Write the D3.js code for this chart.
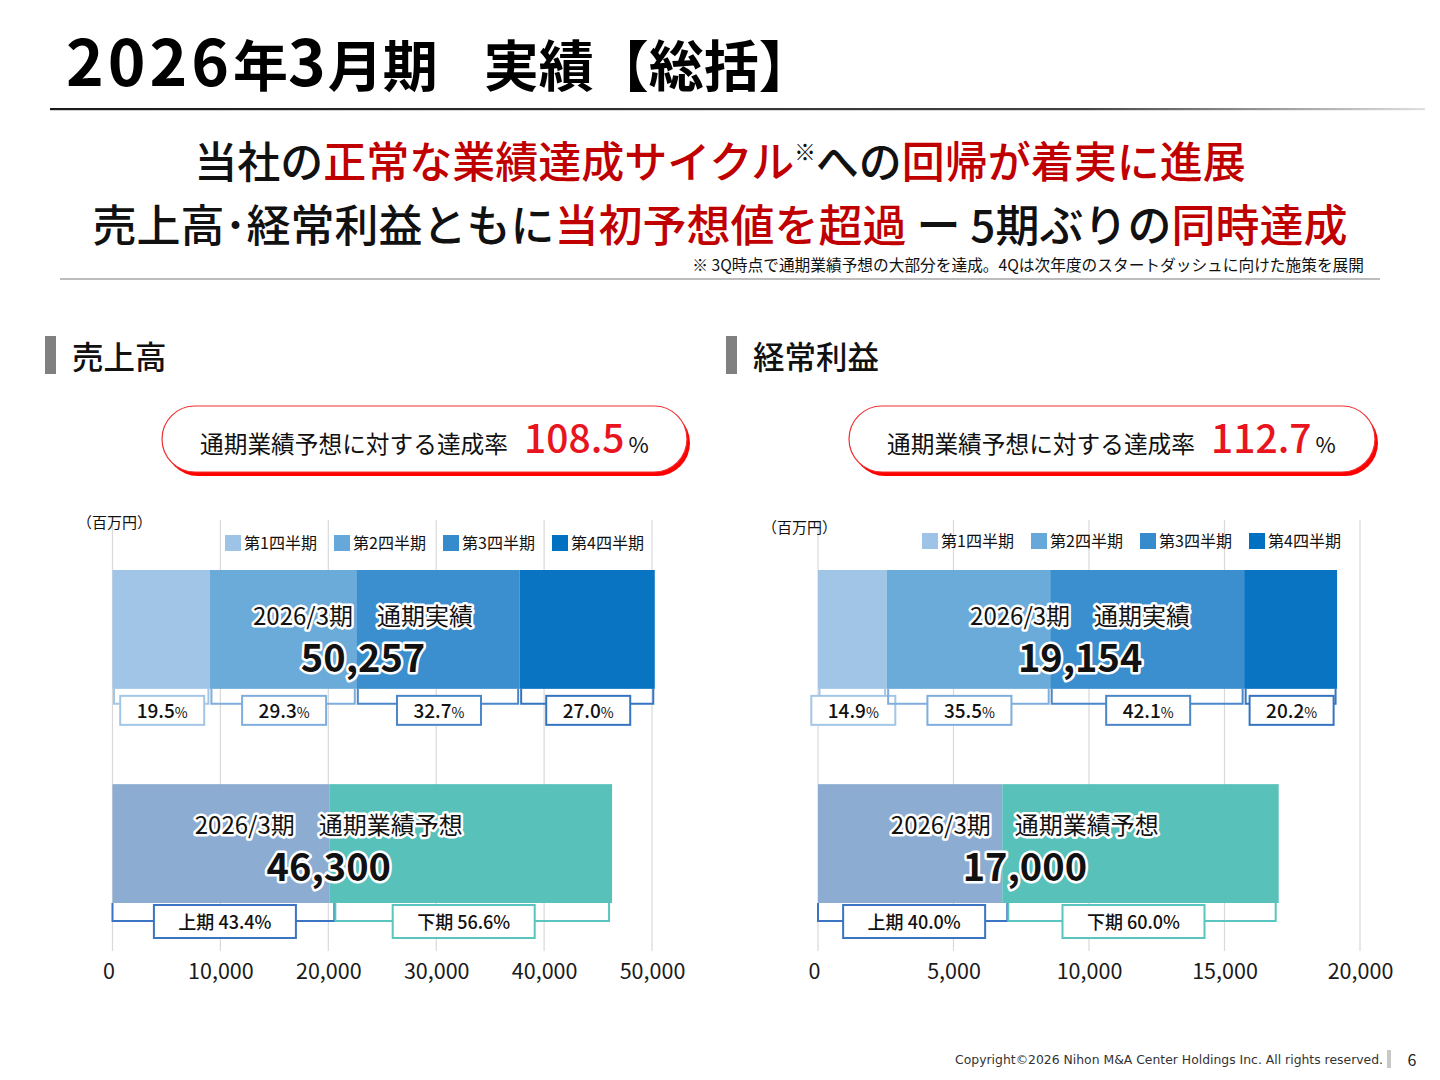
<!DOCTYPE html>
<html lang="ja">
<head>
<meta charset="utf-8">
<script src="https://cdn.jsdelivr.net/npm/d3@7"></script>
<style>
  html, body { margin: 0; padding: 0; background: #fff; }
  svg { display: block; font-family: "Noto Sans CJK JP", "Noto Sans", sans-serif; }
</style>
</head>
<body>
<svg id="chart" width="1440" height="1080"></svg>
<script>
// ---------------- data ----------------
const quarterNames = ["第1四半期", "第2四半期", "第3四半期", "第4四半期"];
const halfNames = ["上期", "下期"];
const rowKeys = ["actual", "forecast"];

// 売上高 (百万円)
const salesQuarterValues = [9029, 13566, 15140, 12522];
const salesQuarterPct = ["19.5", "29.3", "32.7", "27.0"];
const salesForecastHalves = [20094, 26206];
const salesForecastPct = ["43.4%", "56.6%"];
const salesActualTotal = "50,257";
const salesForecastTotal = "46,300";
const salesAchievement = "108.5";
const salesTicks = [0, 10000, 20000, 30000, 40000, 50000];

// 経常利益 (百万円)
const profitQuarterValues = [2533, 6035, 7157, 3429];
const profitQuarterPct = ["14.9", "35.5", "42.1", "20.2"];
const profitForecastHalves = [6800, 10200];
const profitForecastPct = ["40.0%", "60.0%"];
const profitActualTotal = "19,154";
const profitForecastTotal = "17,000";
const profitAchievement = "112.7";
const profitTicks = [0, 5000, 10000, 15000, 20000];

// ---------------- styles ----------------
const quarterColors = ["#9DC3E6", "#66A8D9", "#368BCD", "#0070C0"];
const quarterLineColors = ["#A3C6E6", "#7FAEDD", "#4A86C8", "#3574C0"];
const halfColors = ["#88AACF", "#52BFB8"];
const halfLineColors = ["#3A74C2", "#58C6BE"];
const RED_DARK = "#C00000";
const RED = "#E8141E";

const svg = d3.select("#chart");
const defs = svg.append("defs");

// ---------------- header ----------------
const title = svg.append("text")
  .attr("x", 66).attr("y", 86)
  .attr("font-size", 55).attr("font-weight", 700).attr("fill", "#000");
title.append("tspan").attr("font-size", 64).attr("letter-spacing", 4).text("2026");
title.append("tspan").text("年");
title.append("tspan").attr("font-size", 64).attr("letter-spacing", 2).text("3");
title.append("tspan").text("月期");
title.append("tspan").attr("dx", 46).text("実績【総括】");

const grad = defs.append("linearGradient").attr("id", "ruleGrad");
grad.append("stop").attr("offset", "0%").attr("stop-color", "#1a1a1a");
grad.append("stop").attr("offset", "75%").attr("stop-color", "#444");
grad.append("stop").attr("offset", "100%").attr("stop-color", "#e0e0e0");
svg.append("rect").attr("x", 50).attr("y", 108).attr("width", 1375).attr("height", 2.2)
  .attr("fill", "url(#ruleGrad)");

function richLine(y, parts, size) {
  const t = svg.append("text").attr("x", 720).attr("y", y)
    .attr("text-anchor", "middle").attr("font-size", size).attr("font-weight", 500);
  parts.forEach(p => {
    const s = t.append("tspan").text(p[0]).attr("fill", p[1] ? RED_DARK : "#111");
    if (p[2]) s.attr("font-size", size * 0.5).attr("dy", -size * 0.42);
    if (p[3]) s.attr("dy", size * 0.42);
  });
}
richLine(178, [["当社の", 0], ["正常な業績達成サイクル", 1], ["※", 0, 1], ["への", 0, 0, 1], ["回帰が着実に進展", 1]], 43);
richLine(242, [["売上高･経常利益ともに", 0], ["当初予想値を超過", 1], [" ー 5期ぶりの", 0], ["同時達成", 1]], 44);

svg.append("text").attr("x", 1364).attr("y", 271).attr("text-anchor", "end")
  .attr("font-size", 15.7).attr("fill", "#111")
  .text("※ 3Q時点で通期業績予想の大部分を達成。4Qは次年度のスタートダッシュに向けた施策を展開");
svg.append("line").attr("x1", 60).attr("x2", 1380).attr("y1", 279).attr("y2", 279)
  .attr("stroke", "#a6a6a6").attr("stroke-width", 1.6);

// ---------------- panels ----------------
const panels = [
  {
    title: "売上高", headX: 45, pill: [162, 690], unitX: 85, unitY: 528, legendX: 225, legendY: 543,
    range: [112.5, 652], domain: [0, 50000], ticks: salesTicks,
    q: salesQuarterValues, qPct: salesQuarterPct, h: salesForecastHalves, hPct: salesForecastPct,
    actual: salesActualTotal, forecast: salesForecastTotal, ach: salesAchievement,
    actLabelFrac: 0.462, fcLabelFrac: 0.433
  },
  {
    title: "経常利益", headX: 726, pill: [849, 1378], unitX: 770, unitY: 533, legendX: 922, legendY: 541,
    range: [818, 1360], domain: [0, 20000], ticks: profitTicks,
    q: profitQuarterValues, qPct: profitQuarterPct, h: profitForecastHalves, hPct: profitForecastPct,
    actual: profitActualTotal, forecast: profitForecastTotal, ach: profitAchievement,
    actLabelFrac: 0.505, fcLabelFrac: 0.449
  }
];

const y = d3.scaleBand().domain(rowKeys).range([570, 903]).paddingInner(0.445).paddingOuter(0);
const bw = y.bandwidth();

panels.forEach((p, pi) => {
  const g = svg.append("g");
  // section header
  g.append("rect").attr("x", p.headX).attr("y", 336).attr("width", 11).attr("height", 38).attr("fill", "#808080");
  g.append("text").attr("x", p.headX + 27).attr("y", 369).attr("font-size", 31.5).attr("font-weight", 500)
    .attr("fill", "#111").text(p.title);

  // pill
  const [px0, px1] = p.pill;
  const ph = 66;
  g.append("rect").attr("x", px0 + 3).attr("y", 410).attr("width", px1 - px0 - 3).attr("height", ph)
    .attr("rx", ph / 2).attr("fill", "#FF0000");
  g.append("rect").attr("x", px0).attr("y", 406).attr("width", px1 - px0 - 3).attr("height", ph)
    .attr("rx", ph / 2).attr("fill", "#fff").attr("stroke", "#F03030").attr("stroke-width", 1.2);
  const pt = g.append("text").attr("x", px0 + 38).attr("y", 453).attr("fill", "#111");
  pt.append("tspan").attr("font-size", 23.7).text("通期業績予想に対する達成率");
  pt.append("tspan").attr("dx", 16).attr("font-size", 39).attr("font-weight", 500).attr("fill", RED).text(p.ach);
  pt.append("tspan").attr("dx", 4).attr("font-size", 22).text("%");

  const x = d3.scaleLinear().domain(p.domain).range(p.range);

  // grid + axis
  const grid = g.append("g");
  grid.selectAll("line").data(p.ticks).join("line")
    .attr("x1", d => x(d)).attr("x2", d => x(d)).attr("y1", 520).attr("y2", 951)
    .attr("stroke", "#d9d9d9").attr("stroke-width", 1.2);
  const axis = g.append("g").attr("transform", "translate(0,956)")
    .call(d3.axisBottom(x).tickValues(p.ticks).tickSize(0).tickPadding(8).tickFormat(d3.format(",")));
  axis.select(".domain").remove();
  axis.selectAll("text").attr("font-size", 21.5).attr("fill", "#1a1a1a")
    .attr("font-family", "\"Noto Sans CJK JP\", sans-serif").attr("dx", (d, i) => i === 0 ? -4 : 0);

  // unit + legend
  g.append("text").attr("x", p.unitX).attr("y", p.unitY).attr("font-size", 15).attr("fill", "#111").text("（百万円）")
    .attr("dx", -8);
  const lg = g.append("g").attr("transform", `translate(${p.legendX},${p.legendY})`);
  quarterNames.forEach((n, i) => {
    lg.append("rect").attr("x", i * 109).attr("y", -8).attr("width", 16).attr("height", 16).attr("fill", quarterColors[i]);
    lg.append("text").attr("x", i * 109 + 19).attr("y", 6).attr("font-size", 16).attr("fill", "#111").text(n);
  });

  // actual stacked bar
  const qStack = [];
  let acc = 0;
  p.q.forEach((v, i) => { qStack.push({ i, x0: acc, x1: acc + v }); acc += v; });
  const yA = y("actual");
  g.append("g").selectAll("rect").data(qStack).join("rect")
    .attr("x", d => x(d.x0)).attr("width", d => x(d.x1) - x(d.x0))
    .attr("y", yA).attr("height", bw).attr("fill", d => quarterColors[d.i]).attr("fill-opacity", 0.97);

  // forecast stacked bar
  const hStack = [];
  acc = 0;
  p.h.forEach((v, i) => { hStack.push({ i, x0: acc, x1: acc + v }); acc += v; });
  const yF = y("forecast");
  g.append("g").selectAll("rect").data(hStack).join("rect")
    .attr("x", d => x(d.x0)).attr("width", d => x(d.x1) - x(d.x0))
    .attr("y", yF).attr("height", bw).attr("fill", d => halfColors[d.i]).attr("fill-opacity", 0.97);

  // brackets + boxes (actual)
  const bA = yA + bw;
  qStack.forEach(d => {
    const c = quarterLineColors[d.i];
    const xa = x(d.x0) + 1.5, xb = x(d.x1) - 1.5;
    g.append("path").attr("d", `M${xa},${bA}V${bA + 15}H${xb}V${bA}`)
      .attr("fill", "none").attr("stroke", c).attr("stroke-width", 2);
    const cx = (x(d.x0) + x(d.x1)) / 2 + 1;
    g.append("rect").attr("x", cx - 42).attr("y", bA + 7).attr("width", 84).attr("height", 29)
      .attr("fill", "#fff").attr("stroke", c).attr("stroke-width", 2);
    const t = g.append("text").attr("x", cx).attr("y", bA + 29).attr("text-anchor", "middle").attr("fill", "#111");
    t.append("tspan").attr("font-size", 19).attr("font-weight", 500).text(p.qPct[d.i]);
    t.append("tspan").attr("font-size", 14).text("%");
  });

  // brackets + boxes (forecast)
  const bF = yF + bw;
  hStack.forEach(d => {
    const c = halfLineColors[d.i];
    const xa = x(d.x0) + (d.i === 0 ? 0 : 6), xb = x(d.x1) - (d.i === 0 ? -5 : 3);
    g.append("path").attr("d", `M${xa},${bF}V${bF + 18}H${xb}V${bF}`)
      .attr("fill", "none").attr("stroke", c).attr("stroke-width", 2);
    const cx = (x(d.x0) + x(d.x1)) / 2 + (d.i === 0 ? 4 : -7);
    g.append("rect").attr("x", cx - 71).attr("y", bF + 2).attr("width", 142).attr("height", 33)
      .attr("fill", "#fff").attr("stroke", c).attr("stroke-width", 2);
    g.append("text").attr("x", cx).attr("y", bF + 26).attr("text-anchor", "middle")
      .attr("font-size", 18).attr("font-weight", 500).attr("fill", "#111")
      .text(`${halfNames[d.i]} ${p.hPct[d.i]}`);
  });

  // center labels
  const totA = d3.sum(p.q), totF = d3.sum(p.h);
  const halo = sel => sel.attr("stroke", "#fff").attr("stroke-width", 5).attr("stroke-linejoin", "round")
    .attr("paint-order", "stroke").attr("fill", "#111").attr("text-anchor", "middle");
  const lxA = x(totA * p.actLabelFrac), lxF = x(totF * p.fcLabelFrac);
  g.append("text").attr("x", lxA).attr("y", yA + 55).attr("font-size", 24).call(halo).text("2026/3期　通期実績");
  g.append("text").attr("x", lxA).attr("y", yA + 102).attr("font-size", 38).attr("font-weight", 700).call(halo).text(p.actual);
  g.append("text").attr("x", lxF).attr("y", yF + 50).attr("font-size", 24).call(halo).text("2026/3期　通期業績予想");
  g.append("text").attr("x", lxF).attr("y", yF + 97).attr("font-size", 38).attr("font-weight", 700).call(halo).text(p.forecast);
});

// ---------------- footer ----------------
svg.append("text").attr("x", 1383).attr("y", 1064).attr("text-anchor", "end")
  .attr("font-size", 12.4).attr("fill", "#333").attr("font-family", "\"DejaVu Sans\", sans-serif")
  .text("Copyright©2026 Nihon M&A Center Holdings Inc. All rights reserved.");
svg.append("rect").attr("x", 1387).attr("y", 1050).attr("width", 4).attr("height", 18).attr("fill", "#c8c8c8");
svg.append("text").attr("x", 1412).attr("y", 1066).attr("text-anchor", "middle")
  .attr("font-size", 16).attr("fill", "#222").text("6");
</script>
</body>
</html>
